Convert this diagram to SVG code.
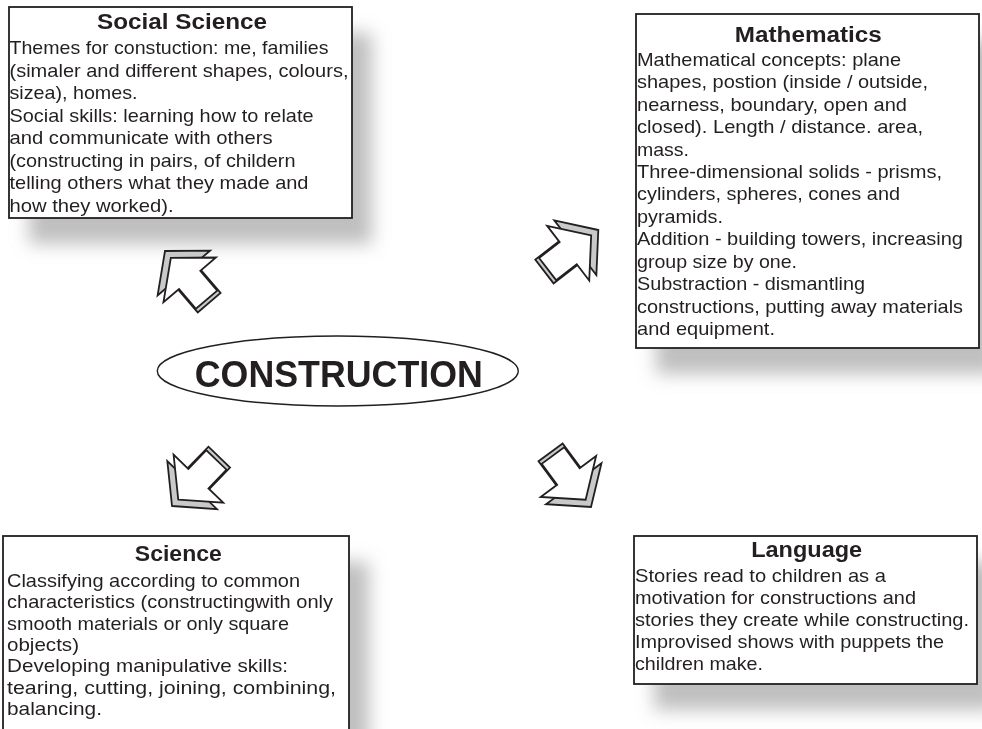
<svg xmlns="http://www.w3.org/2000/svg" xmlns:xlink="http://www.w3.org/1999/xlink" width="982" height="729" viewBox="0 0 982 729">
<style>
.box{fill:#ffffff;stroke:#231f20;stroke-width:1.8}
.shadow{fill:#8a8a8a;opacity:0.55}
.title{font-family:"Liberation Sans",Arial,sans-serif;font-weight:bold;font-size:22px;fill:#231f20;text-anchor:middle}
.body{font-family:"Liberation Sans",Arial,sans-serif;font-size:18.5px;fill:#231f20}
.center{font-family:"Liberation Sans",Arial,sans-serif;font-weight:bold;font-size:36px;fill:#231f20;text-anchor:middle}
.ell{fill:#ffffff;stroke:#231f20;stroke-width:1.4}
.back{fill:#c8c9cb;stroke:#231f20;stroke-width:1.8;stroke-linejoin:miter}
.front{fill:#ffffff;stroke:#231f20;stroke-width:1.8;stroke-linejoin:miter}
</style>
<defs>
<filter id="blur" x="-20%" y="-20%" width="140%" height="140%">
<feGaussianBlur stdDeviation="9"/>
</filter>
<g id="arrow">
<polygon class="back" points="0,0 -29,-34.5 -29,-15 -68,-15 -68,15 -29,15 -29,34.5"/>
<polygon class="front" points="-9,0 -38,-34.5 -38,-14 -64,-14 -64,14 -38,14 -38,34.5"/>
</g>
</defs>
<rect width="982" height="729" fill="#ffffff"/>
<g id="shadows" filter="url(#blur)">
<rect class="shadow" x="29" y="33" width="343" height="211"/>
<rect class="shadow" x="656" y="40" width="343" height="334"/>
<rect class="shadow" x="23" y="562" width="346" height="200"/>
<rect class="shadow" x="654" y="562" width="343" height="148"/>
</g>
<g id="node-social">
<rect class="box" x="9" y="7" width="343" height="211"/>
<text class="title" x="182" y="29.3" textLength="170" lengthAdjust="spacingAndGlyphs">Social Science</text>
<text class="body" x="9.5" y="54.3" textLength="319" lengthAdjust="spacingAndGlyphs">Themes for constuction: me, families</text>
<text class="body" x="9.5" y="76.8" textLength="339" lengthAdjust="spacingAndGlyphs">(simaler and different shapes, colours,</text>
<text class="body" x="9.5" y="99.3" textLength="128" lengthAdjust="spacingAndGlyphs">sizea), homes.</text>
<text class="body" x="9.5" y="121.8" textLength="304" lengthAdjust="spacingAndGlyphs">Social skills: learning how to relate</text>
<text class="body" x="9.5" y="144.2" textLength="263" lengthAdjust="spacingAndGlyphs">and communicate with others</text>
<text class="body" x="9.5" y="166.7" textLength="286" lengthAdjust="spacingAndGlyphs">(constructing in pairs, of childern</text>
<text class="body" x="9.5" y="189.2" textLength="299" lengthAdjust="spacingAndGlyphs">telling others what they made and</text>
<text class="body" x="9.5" y="211.7" textLength="164" lengthAdjust="spacingAndGlyphs">how they worked).</text>
</g>
<g id="node-mathematics">
<rect class="box" x="636" y="14" width="343" height="334"/>
<text class="title" x="808.3" y="41.7" textLength="147" lengthAdjust="spacingAndGlyphs">Mathematics</text>
<text class="body" x="637" y="65.7" textLength="264" lengthAdjust="spacingAndGlyphs">Mathematical concepts: plane</text>
<text class="body" x="637" y="88.1" textLength="291" lengthAdjust="spacingAndGlyphs">shapes, postion (inside / outside,</text>
<text class="body" x="637" y="110.6" textLength="270" lengthAdjust="spacingAndGlyphs">nearness, boundary, open and</text>
<text class="body" x="637" y="133" textLength="286" lengthAdjust="spacingAndGlyphs">closed). Length / distance. area,</text>
<text class="body" x="637" y="155.5" textLength="52" lengthAdjust="spacingAndGlyphs">mass.</text>
<text class="body" x="637" y="177.9" textLength="305" lengthAdjust="spacingAndGlyphs">Three-dimensional solids - prisms,</text>
<text class="body" x="637" y="200.3" textLength="263" lengthAdjust="spacingAndGlyphs">cylinders, spheres, cones and</text>
<text class="body" x="637" y="222.8" textLength="86" lengthAdjust="spacingAndGlyphs">pyramids.</text>
<text class="body" x="637" y="245.2" textLength="326" lengthAdjust="spacingAndGlyphs">Addition - building towers, increasing</text>
<text class="body" x="637" y="267.7" textLength="160" lengthAdjust="spacingAndGlyphs">group size by one.</text>
<text class="body" x="637" y="290.1" textLength="228" lengthAdjust="spacingAndGlyphs">Substraction - dismantling</text>
<text class="body" x="637" y="312.5" textLength="326" lengthAdjust="spacingAndGlyphs">constructions, putting away materials</text>
<text class="body" x="637" y="335" textLength="138" lengthAdjust="spacingAndGlyphs">and equipment.</text>
</g>
<g id="node-science">
<rect class="box" x="3" y="536" width="346" height="200"/>
<text class="title" x="178.3" y="560.7" textLength="87" lengthAdjust="spacingAndGlyphs">Science</text>
<text class="body" x="7" y="586.7" textLength="293" lengthAdjust="spacingAndGlyphs">Classifying according to common</text>
<text class="body" x="7" y="608.1" textLength="326" lengthAdjust="spacingAndGlyphs">characteristics (constructingwith only</text>
<text class="body" x="7" y="629.5" textLength="282" lengthAdjust="spacingAndGlyphs">smooth materials or only square</text>
<text class="body" x="7" y="650.9" textLength="72" lengthAdjust="spacingAndGlyphs">objects)</text>
<text class="body" x="7" y="672.3" textLength="281" lengthAdjust="spacingAndGlyphs">Developing manipulative skills:</text>
<text class="body" x="7" y="693.7" textLength="329" lengthAdjust="spacingAndGlyphs">tearing, cutting, joining, combining,</text>
<text class="body" x="7" y="715.1" textLength="95" lengthAdjust="spacingAndGlyphs">balancing.</text>
</g>
<g id="node-language">
<rect class="box" x="634" y="536" width="343" height="148"/>
<text class="title" x="806.7" y="556.7" textLength="111" lengthAdjust="spacingAndGlyphs">Language</text>
<text class="body" x="635" y="581.7" textLength="251" lengthAdjust="spacingAndGlyphs">Stories read to children as a</text>
<text class="body" x="635" y="603.8" textLength="281" lengthAdjust="spacingAndGlyphs">motivation for constructions and</text>
<text class="body" x="635" y="625.9" textLength="334" lengthAdjust="spacingAndGlyphs">stories they create while constructing.</text>
<text class="body" x="635" y="648" textLength="309" lengthAdjust="spacingAndGlyphs">Improvised shows with puppets the</text>
<text class="body" x="635" y="670.1" textLength="128" lengthAdjust="spacingAndGlyphs">children make.</text>
</g>
<g id="node-construction">
<ellipse class="ell" cx="337.8" cy="371" rx="180.5" ry="35"/>
<text class="center" x="338.8" y="387.3" textLength="288" lengthAdjust="spacingAndGlyphs">CONSTRUCTION</text>
</g>
<g id="connectors">
<use xlink:href="#arrow" transform="translate(165,251) rotate(-130.5)"/>
<use xlink:href="#arrow" transform="translate(598.3,230) rotate(-37.6)"/>
<use xlink:href="#arrow" transform="translate(172,506) rotate(134)"/>
<use xlink:href="#arrow" transform="translate(591,507) rotate(53.5)"/>
</g>
</svg>
